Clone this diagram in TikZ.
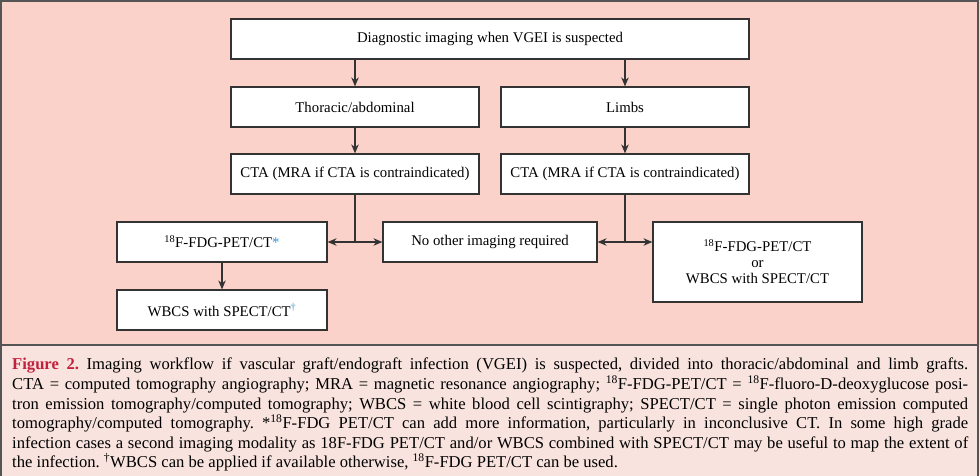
\documentclass[tikz,border=0pt]{standalone}
\usepackage{fontspec}
\setmainfont{Liberation Serif}
\usetikzlibrary{arrows.meta}
\definecolor{diagbg}{HTML}{FAD2C9}
\definecolor{capbg}{HTML}{F8E3DE}
\definecolor{framegray}{HTML}{555555}
\definecolor{boxline}{HTML}{333333}
\definecolor{figred}{HTML}{C2203C}
\definecolor{noteblue}{HTML}{3A9AD0}
\tikzset{
  flowbox/.style={draw=boxline, line width=1.2pt, fill=white, minimum height=40pt, inner sep=0pt, align=center, font=\fontsize{14.8}{16}\selectfont},
  flowarrow/.style={draw=boxline, line width=1.2pt, -{Stealth[length=9pt,width=7.5pt]}},
  flowline/.style={draw=boxline, line width=1.2pt}
}
\begin{document}
\frenchspacing
\begin{tikzpicture}[x=1pt,y=-1pt]
\useasboundingbox (0,0) rectangle (980,476);
\fill[diagbg] (0,0) rectangle (980,345);
\fill[capbg] (0,345) rectangle (980,476);
\draw[framegray, line width=2pt] (1,476) -- (1,1) -- (978,1) -- (978,476);
\draw[framegray, line width=1.2pt] (1,345) -- (978,345);

\node[flowbox, minimum width=518pt] (top) at (490,39) {Diagnostic imaging when VGEI is suspected};
\node[flowbox, minimum width=248pt] (thor) at (355,107) {Thoracic/abdominal};
\node[flowbox, minimum width=248pt] (limbs) at (625,107) {Limbs};
\node[flowbox, minimum width=248pt] (ctaL) at (355,174) {CTA (MRA if CTA is contraindicated)};
\node[flowbox, minimum width=248pt] (ctaR) at (625,174) {CTA (MRA if CTA is contraindicated)};
\node[flowbox, minimum width=210pt] (fdgL) at (222,242) {\textsuperscript{18}F-FDG-PET/CT\textcolor{noteblue}{*}};
\node[flowbox, minimum width=214pt] (none) at (490,242) {No other imaging required};
\node[flowbox, minimum width=209pt, minimum height=80pt, font=\fontsize{14.8}{16}\selectfont] (rbox) at (757.5,262) {\textsuperscript{18}F-FDG-PET/CT\\or\\WBCS with SPECT/CT};
\node[flowbox, minimum width=210pt] (wbcsL) at (222,310) {WBCS with SPECT/CT\textsuperscript{\textcolor{noteblue}{\dag}}};

\coordinate (jL) at (ctaL.south |- fdgL.east);
\coordinate (jR) at (ctaR.south |- none.east);

\draw[flowarrow] (top.south -| thor.north) -- (thor.north);
\draw[flowarrow] (top.south -| limbs.north) -- (limbs.north);
\draw[flowarrow] (thor.south) -- (ctaL.north);
\draw[flowarrow] (limbs.south) -- (ctaR.north);
\draw[flowline] (ctaL.south) -- (jL);
\draw[flowarrow] (jL) -- (fdgL.east);
\draw[flowarrow] (jL) -- (none.west);
\draw[flowline] (ctaR.south) -- (jR);
\draw[flowarrow] (jR) -- (none.east);
\draw[flowarrow] (jR) -- (rbox.west |- jR);
\draw[flowarrow] (fdgL.south) -- (wbcsL.north);

\node[anchor=north west, inner sep=0pt, text width=956pt, align=justify, font=\fontsize{16.6}{19.6}\selectfont] (caption) at (12,358) {%
\textcolor{figred}{\textbf{Figure 2.}} Imaging workflow if vascular graft/endograft infection (VGEI) is suspected, divided into thoracic/abdominal and limb grafts.\linebreak
CTA = computed tomography angiography; MRA = magnetic resonance angiography; \textsuperscript{18}F-FDG-PET/CT = \textsuperscript{18}F-fluoro-D-deoxyglucose posi-\linebreak
tron emission tomography/computed tomography; WBCS = white blood cell scintigraphy; SPECT/CT = single photon emission computed\linebreak
tomography/computed tomography. *\textsuperscript{18}F-FDG PET/CT can add more information, particularly in inconclusive CT. In some high grade\linebreak
infection cases a second imaging modality as 18F-FDG PET/CT and/or WBCS combined with SPECT/CT may be useful to map the extent of\linebreak
the infection. \textsuperscript{\dag}WBCS can be applied if available otherwise, \textsuperscript{18}F-FDG PET/CT can be used.};
\end{tikzpicture}
\end{document}
